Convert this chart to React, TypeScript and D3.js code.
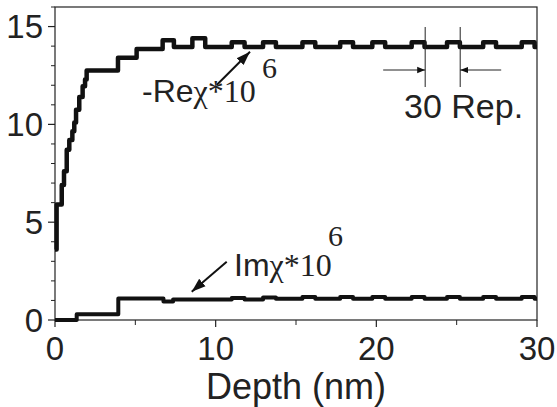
import React from 'react';
import * as d3 from 'd3';

// -Re chi * 1e6, step breakpoints
const reDepth = [0, 0.1, 0.42, 0.56, 0.73, 0.89, 1.08, 1.2, 1.31, 1.51, 1.72, 1.87, 1.97, 3.92, 5.08,
  6.7, 7.4, 8.55, 9.35, 11.0, 11.8, 12.95, 13.75, 15.4, 16.2, 17.75, 18.55, 19.75, 20.55,
  22.2, 23.0, 24.4, 25.2, 26.65, 27.45, 29.05, 29.85, 30];
const reValue = [3.6, 5.9, 6.9, 7.6, 8.7, 9.2, 9.65, 10.1, 10.75, 11.4, 11.95, 12.3, 12.75, 13.4, 13.85,
  14.3, 13.95, 14.4, 13.95, 14.2, 13.95, 14.2, 13.95, 14.2, 13.95, 14.2, 13.95, 14.2, 13.95,
  14.2, 13.95, 14.2, 13.95, 14.2, 13.95, 14.2, 13.95, 13.95];

// Im chi * 1e6
const imDepth = [0, 1.35, 3.94, 6.75, 7.35, 11.0, 11.8, 12.95, 13.75, 15.4, 16.2, 17.75, 18.55, 19.75, 20.55,
  22.2, 23.0, 24.4, 25.2, 26.65, 27.45, 29.05, 29.85, 30];
const imValue = [0, 0.29, 1.1, 0.95, 1.05, 1.12, 1.05, 1.15, 1.08, 1.18, 1.08, 1.18, 1.08, 1.18, 1.08,
  1.18, 1.08, 1.18, 1.08, 1.18, 1.08, 1.18, 1.08, 1.08];

const xMajor = [0, 10, 20, 30];
const xMinor = [5, 15, 25];
const yMajor = [0, 5, 10, 15];
const yMinor = [1, 2, 3, 4, 6, 7, 8, 9, 11, 12, 13, 14, 16];

// period markers for "30 Rep."
const repMarks = [23.04, 25.22];

const width = 557;
const height = 407;
const margin = { top: 7, right: 20, bottom: 87, left: 55 };
const innerWidth = width - margin.left - margin.right;
const innerHeight = height - margin.top - margin.bottom;

const sans = '"Liberation Sans", Arial, sans-serif';
const serif = '"Liberation Serif", "Times New Roman", serif';

const App = () => {
  const x = d3.scaleLinear().domain([0, 30]).range([0, innerWidth]);
  const y = d3.scaleLinear().domain([0, 16]).range([innerHeight, 0]);

  const step = d3.line<[number, number]>()
    .x(d => x(d[0]))
    .y(d => y(d[1]))
    .curve(d3.curveStepAfter);

  const rePath = step(reDepth.map((d, i) => [d, reValue[i]]));
  const imPath = step(imDepth.map((d, i) => [d, imValue[i]]));

  const r0 = x(repMarks[0]);
  const r1 = x(repMarks[1]);

  return (
    <svg width={width} height={height} style={{ position: 'absolute', left: 0, top: 0, background: '#fff' }}>
      <defs>
        <marker id="ah" viewBox="0 0 10 10" refX="10" refY="5" markerWidth="8" markerHeight="8"
          markerUnits="userSpaceOnUse" orient="auto">
          <path d="M0,1 L10,5 L0,9 z" fill="#111" />
        </marker>
        <marker id="ahBig" viewBox="0 0 10 10" refX="10" refY="5" markerWidth="14" markerHeight="14"
          markerUnits="userSpaceOnUse" orient="auto">
          <path d="M0,1.5 L10,5 L0,8.5 z" fill="#111" />
        </marker>
      </defs>
      <g transform={`translate(${margin.left},${margin.top})`}>
        <rect x={0} y={0} width={innerWidth} height={innerHeight} fill="none" stroke="#222" strokeWidth={1.2} />

        {yMajor.map(v => (
          <g key={'ym' + v} transform={`translate(0,${y(v)})`}>
            <line x1={-7} x2={0} stroke="#222" strokeWidth={1.2} />
            <text x={-12} dy="0.36em" textAnchor="end" fontFamily={sans} fontSize={33} fill="#222">{v}</text>
          </g>
        ))}
        {yMinor.map(v => (
          <line key={'yn' + v} x1={-4} x2={0} y1={y(v)} y2={y(v)} stroke="#222" strokeWidth={1} />
        ))}
        {xMajor.map(v => (
          <g key={'xm' + v} transform={`translate(${x(v)},${innerHeight})`}>
            <line y1={0} y2={7} stroke="#222" strokeWidth={1.2} />
            <text y={40} textAnchor="middle" fontFamily={sans} fontSize={33} fill="#222">{v}</text>
          </g>
        ))}
        {xMinor.map(v => (
          <line key={'xn' + v} x1={x(v)} x2={x(v)} y1={innerHeight} y2={innerHeight + 5} stroke="#222" strokeWidth={1} />
        ))}

        <path d={rePath || ''} fill="none" stroke="#111" strokeWidth={4.5} strokeLinejoin="round" />
        <path d={imPath || ''} fill="none" stroke="#111" strokeWidth={4} strokeLinejoin="round" />

        {/* 30 Rep. annotation */}
        <line x1={r0} x2={r0} y1={20} y2={80} stroke="#222" strokeWidth={1} />
        <line x1={r1} x2={r1} y1={20} y2={80} stroke="#222" strokeWidth={1} />
        <line x1={r0 - 42} x2={r0} y1={63} y2={63} stroke="#222" strokeWidth={1} markerEnd="url(#ah)" />
        <line x1={r1 + 41} x2={r1} y1={63} y2={63} stroke="#222" strokeWidth={1} markerEnd="url(#ah)" />
      </g>

      <text x={404} y={118} fontFamily={sans} fontSize={34} fill="#222">30 Rep.</text>

      {/* Re label */}
      <line x1={216.7} y1={85} x2={250} y2={51.7} stroke="#111" strokeWidth={2} markerEnd="url(#ahBig)" />
      <text x={142} y={102} fontSize={32} fill="#222">
        <tspan fontFamily={sans}>-Re</tspan>
        <tspan fontFamily={serif}>χ*10</tspan>
      </text>
      <text x={262} y={78} fontFamily={serif} fontSize={30} fill="#222">6</text>

      {/* Im label */}
      <line x1={226.7} y1={261.7} x2={191.7} y2={291.7} stroke="#111" strokeWidth={2} markerEnd="url(#ahBig)" />
      <text x={234} y={276} fontSize={32} fill="#222">
        <tspan fontFamily={sans}>Im</tspan>
        <tspan fontFamily={serif}>χ*10</tspan>
      </text>
      <text x={328} y={246} fontFamily={serif} fontSize={30} fill="#222">6</text>

      <text x={margin.left + innerWidth / 2} y={399} textAnchor="middle" fontFamily={sans} fontSize={36} fill="#222">Depth (nm)</text>
    </svg>
  );
};

export default App;
